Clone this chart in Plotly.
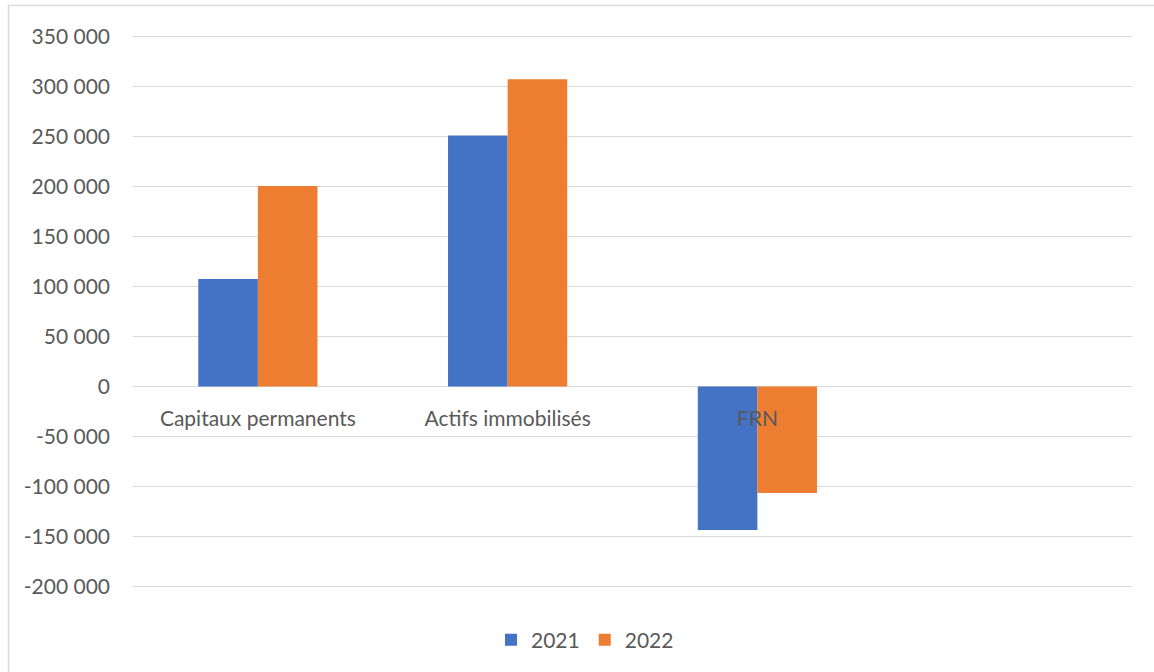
import plotly.graph_objects as go

# Clustered columns: financing vs. fixed assets and the resulting FRN
categories = ["Capitaux permanents", "Actifs immobilisés", "FRN"]
values_2021 = [107500, 251000, -143500]
values_2022 = [200600, 307200, -106600]

y_tickvals = [350000, 300000, 250000, 200000, 150000, 100000, 50000, 0,
              -50000, -100000, -150000, -200000]
y_ticktext = ["350 000", "300 000", "250 000", "200 000", "150 000", "100 000",
              "50 000", "0", "-50 000", "-100 000", "-150 000", "-200 000"]

BLUE = "#4472C4"
ORANGE = "#ED7D31"
TEXT = "#595959"
GRID = "#D9D9D9"
FONT = "Lato, 'Open Sans', sans-serif"
FS = 21

W, H = 1154, 672
ML, MR, MT, MB = 133, 22, 35, 84
# a small pad keeps the outermost gridlines inside the plotting area
Y_MIN, Y_MAX = -201500, 351500

fig = go.Figure()
fig.add_trace(go.Bar(name="2021", x=categories, y=values_2021, marker_color=BLUE,
                     marker_line_width=0))
fig.add_trace(go.Bar(name="2022", x=categories, y=values_2022, marker_color=ORANGE,
                     marker_line_width=0))

# category labels sit on the zero line, as in a spreadsheet chart
zero_pos = (0 - Y_MIN) / (Y_MAX - Y_MIN)

pw = W - ML - MR
ph = H - MT - MB

def px_to_x(px):
    return (px - ML) / pw

def py_to_y(py):
    return (H - MB - py) / ph

fig.update_layout(
    width=W, height=H,
    margin=dict(l=ML, r=MR, t=MT, b=MB, pad=0),
    paper_bgcolor="white", plot_bgcolor="white",
    barmode="group", bargap=0.5227, bargroupgap=0,
    font=dict(family=FONT, size=FS, color=TEXT),
    xaxis=dict(
        type="category", categoryorder="array", categoryarray=categories,
        range=[-0.5, 3.5], anchor="free", position=zero_pos,
        showgrid=False, showline=False, zeroline=False, ticks="",
        ticklabelstandoff=17,
        tickfont=dict(family=FONT, size=FS, color=TEXT),
    ),
    yaxis=dict(
        range=[Y_MIN, Y_MAX], tickvals=y_tickvals, ticktext=y_ticktext,
        showgrid=True, gridcolor=GRID, gridwidth=1,
        zeroline=True, zerolinecolor=GRID, zerolinewidth=1,
        showline=False, ticks="", ticklabelstandoff=22,
        tickfont=dict(family=FONT, size=FS, color=TEXT),
    ),
    legend=dict(
        orientation="h", x=px_to_x(585), xanchor="center",
        y=py_to_y(640), yanchor="middle",
        font=dict(family=FONT, size=FS, color=TEXT),
        itemwidth=30, tracegroupgap=0, bgcolor="rgba(0,0,0,0)",
    ),
    shapes=[
        dict(type="rect", xref="paper", yref="paper",
             x0=px_to_x(8.5), y0=py_to_y(H + 30), x1=px_to_x(W + 30), y1=py_to_y(5.5),
             line=dict(color=GRID, width=1.5), fillcolor="rgba(0,0,0,0)", layer="below"),
    ],
)

fig.write_html("out.html")
